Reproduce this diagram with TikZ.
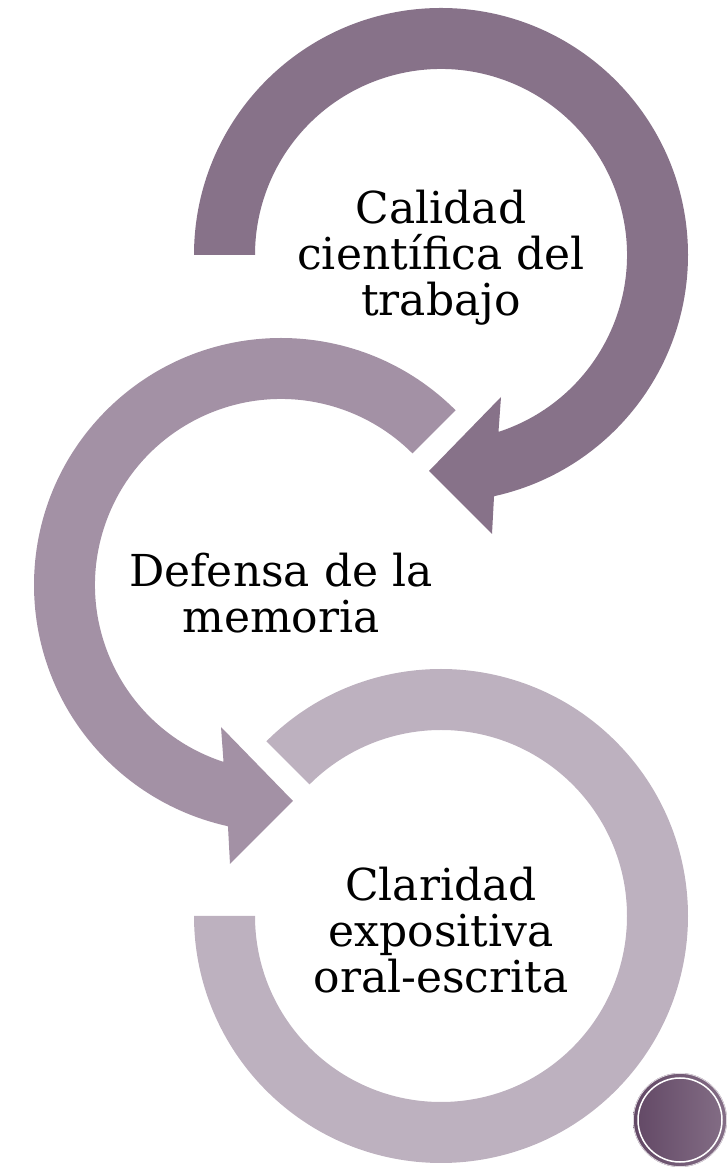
\documentclass[tikz,border=0pt]{standalone}
\usepackage{fontspec}
\setmainfont{DejaVu Serif}
\usetikzlibrary{positioning}
\definecolor{ringa}{RGB}{135,114,137}
\definecolor{ringb}{RGB}{163,145,165}
\definecolor{ringc}{RGB}{189,177,191}
\definecolor{dotdark}{RGB}{98,72,101}
\definecolor{dotlight}{RGB}{132,110,134}
\tikzset{
  steptext/.style={align=center, text=black, font=\fontsize{44}{46}\selectfont}
}

\begin{document}
\begin{tikzpicture}[x=1pt, y=1pt]
        \useasboundingbox (0,0) rectangle (728,1168);
        % Ring centres
        \coordinate (ca) at (441,913);
        \coordinate (cb) at (281,583);
        \coordinate (cc) at (441,252);
        % First ring, arrow head at the bottom
        \begin{scope}[shift={(ca)}]
            \fill[ringa] (180:247) arc[start angle=180, end angle=-77.6, radius=247]
                -- (51,-279) -- (-12,-216) -- (60,-142)
                -- (-72:186) arc[start angle=-72, end angle=180, radius=186] -- cycle;
        \end{scope}
        % Second ring, turning the other way
        \begin{scope}[shift={(cb)}]
            \fill[ringb] (45:247) arc[start angle=45, end angle=257.6, radius=247]
                -- (-51,-279) -- (12,-216) -- (-60,-142)
                -- (252:186) arc[start angle=252, end angle=45, radius=186] -- cycle;
        \end{scope}
        % Third ring, no head
        \begin{scope}[shift={(cc)}]
            \fill[ringc] (135:247) arc[start angle=135, end angle=-180, radius=247]
                -- (180:186) arc[start angle=-180, end angle=135, radius=186] -- cycle;
        \end{scope}
        % Labels
        \node[steptext] (calidad) at ([yshift=-3]ca) {Calidad\\científica del\\trabajo};
        \node[steptext] (defensa) at ([yshift=-8]cb) {Defensa de la\\memoria};
        \node[steptext] (claridad) at ([yshift=-14]cc) {Claridad\\expositiva\\oral-escrita};
        % Corner badge
        \shade[left color=dotdark, right color=dotlight] (680,48) circle[radius=47];
        \draw[white!80!dotdark, line width=0.8] (680,48) circle[radius=46.6];
        \draw[white, line width=1.5] (680,48) circle[radius=42];
\end{tikzpicture}
\end{document}
